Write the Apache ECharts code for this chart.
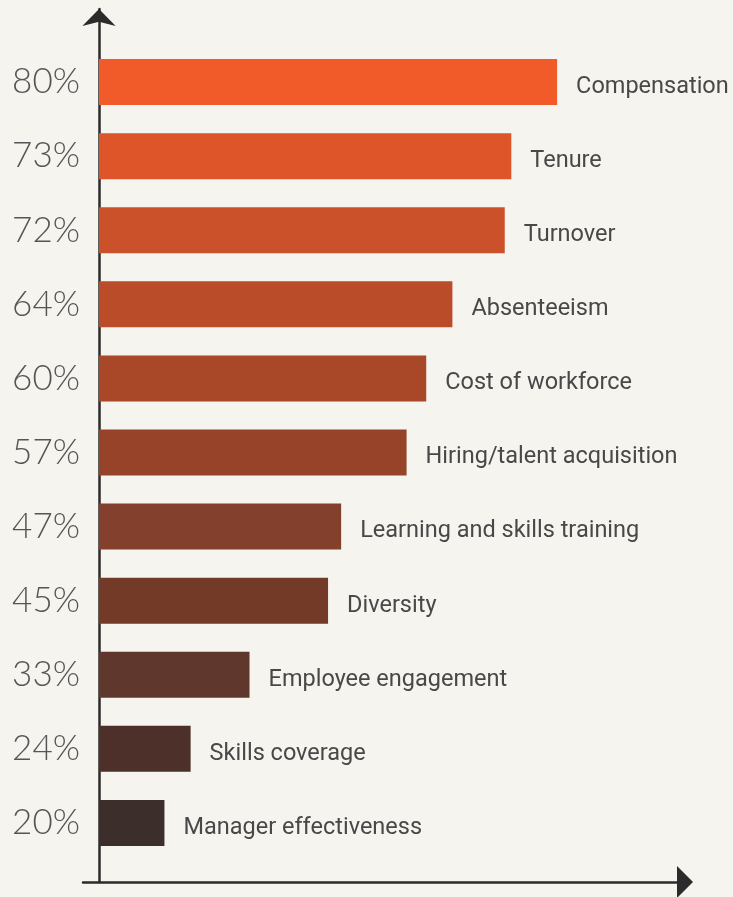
<!DOCTYPE html>
<html>
<head>
<meta charset="utf-8">
<script src="https://cdn.jsdelivr.net/npm/echarts@6/dist/echarts.min.js"></script>
<style>
  html, body { margin: 0; padding: 0; background: #f5f4ef; }
  #chart { width: 733px; height: 897px; }
</style>
</head>
<body>
<div id="chart"></div>
<script>
// Workforce metrics tracked, share of respondents (%)
const categories = [
  'Compensation', 'Tenure', 'Turnover', 'Absenteeism', 'Cost of workforce',
  'Hiring/talent acquisition', 'Learning and skills training', 'Diversity',
  'Employee engagement', 'Skills coverage', 'Manager effectiveness'
];
const values = [80, 73, 72, 64, 60, 57, 47, 45, 33, 24, 20];
const barColors = [
  '#f15a29', '#df552a', '#cb512b', '#ba4c2a', '#a84829', '#96432a',
  '#83402c', '#733a28', '#60372c', '#4e302a', '#3c2e2a'
];

const chart = echarts.init(document.getElementById('chart'));

const axisColor = '#2b2b2b';

chart.setOption({
  backgroundColor: '#f5f4ef',
  animation: false,
  grid: [
    // bars
    { left: 99, right: 45, top: 45, bottom: 37 },
    // arrowed axis frame
    { left: 83, right: 48, top: 9, bottom: 15 }
  ],
  xAxis: [
    { gridIndex: 0, type: 'value', min: 10, max: 100, show: false },
    {
      gridIndex: 1, type: 'value', min: 0, max: 1,
      axisLine: {
        show: true, symbol: ['none', 'triangle'], symbolSize: [32, 16],
        lineStyle: { color: axisColor, width: 2.5 }
      },
      axisTick: { show: false }, axisLabel: { show: false }, splitLine: { show: false }
    }
  ],
  yAxis: [
    {
      gridIndex: 0, type: 'category', data: categories, inverse: true,
      axisLine: { show: false }, axisTick: { show: false }, splitLine: { show: false },
      axisLabel: {
        margin: 19,
        padding: [14, 0, 0, 0],
        fontFamily: 'Lato', fontWeight: 300, fontSize: 35, color: '#555555',
        formatter: (v, i) => values[i] + '%'
      }
    },
    {
      gridIndex: 1, type: 'value', min: 0, max: 1, offset: -16,
      axisLine: {
        show: true, symbol: ['none', 'arrow'], symbolSize: [25, 17],
        lineStyle: { color: axisColor, width: 2.5 }
      },
      axisTick: { show: false }, axisLabel: { show: false }, splitLine: { show: false }
    }
  ],
  series: [{
    type: 'bar',
    xAxisIndex: 0, yAxisIndex: 0,
    barWidth: 46,
    data: values.map((v, i) => ({ value: v, itemStyle: { color: barColors[i] } })),
    label: {
      show: true, position: 'right', distance: 19, offset: [0, 5],
      fontFamily: 'Roboto', fontSize: 23.5, color: '#484848',
      formatter: p => categories[p.dataIndex]
    }
  }]
});
</script>
</body>
</html>
